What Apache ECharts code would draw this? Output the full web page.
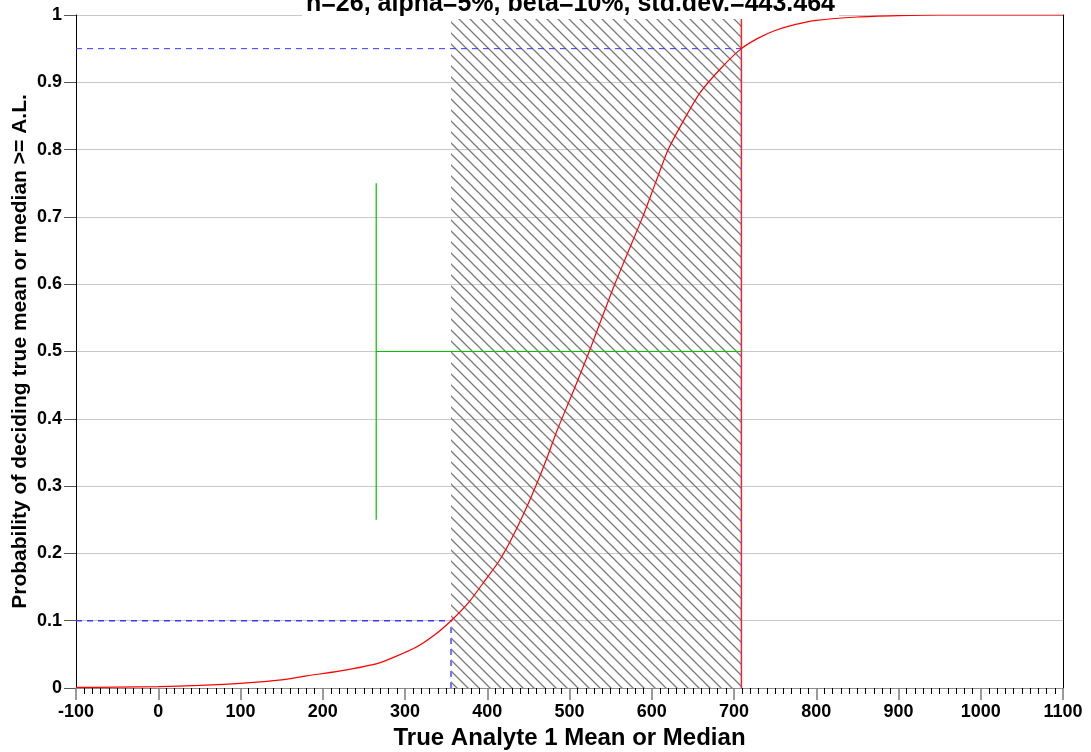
<!DOCTYPE html>
<html>
<head>
<meta charset="utf-8">
<script src="https://cdn.jsdelivr.net/npm/echarts@6/dist/echarts.min.js"></script>
<style>
  html, body { margin: 0; padding: 0; background: #fff; }
  #chart { width: 1091px; height: 752px; }
</style>
</head>
<body>
<div id="chart"></div>
<script>
// power curve
var curveX = [-100, -50, 0, 50, 100, 150, 180, 220, 268, 311, 335, 356, 378, 398, 414, 428, 444, 459, 472, 485, 505, 524, 540, 555, 572, 589, 605, 620, 640, 659, 685, 709, 730, 750, 775, 800, 850, 900, 950, 1100];
var curveP = [0.0008, 0.0013, 0.002, 0.004, 0.007, 0.012, 0.018, 0.025, 0.037, 0.059, 0.078, 0.1, 0.128, 0.161, 0.188, 0.218, 0.258, 0.3, 0.34, 0.383, 0.442, 0.5, 0.552, 0.6, 0.65, 0.7, 0.752, 0.8, 0.846, 0.885, 0.922, 0.95, 0.966, 0.977, 0.986, 0.992, 0.997, 0.999, 1, 1];

// reference levels
var xRange = [-100, 1100];
var lbgr = 356;          // lower bound of gray region
var actionLevel = 709;   // A.L.
var betaP = 0.1;
var alphaP = 0.95;
var greenX = 265;
var greenBar = [0.25, 0.75];
var midP = 0.5;
var titleText = 'n=26, alpha=5%, beta=10%, std.dev.=443.464';

var FONT = "'Liberation Sans', Arial, Helvetica, sans-serif";

// hatch pattern for the gray region
function makeHatch() {
	var c = document.createElement('canvas');
	var s = 11;
	c.width = s;
	c.height = s;
	var ctx = c.getContext('2d');
	ctx.strokeStyle = '#7a7a7a';
	ctx.lineWidth = 1.3;
	ctx.beginPath();
	ctx.moveTo(0, 0); ctx.lineTo(s, s);
	ctx.moveTo(-2, s - 2); ctx.lineTo(2, s + 2);
	ctx.moveTo(s - 2, -2); ctx.lineTo(s + 2, 2);
	ctx.stroke();
	return c;
}

function pairs(xs, ys) {
	var out = [];
	for (var i = 0; i < xs.length; i++) out.push([xs[i], ys[i]]);
	return out;
}

function seg(data, color, width, type, z) {
	return {
		type: 'line',
		data: data,
		symbol: 'none',
		silent: true,
		z: z || 3,
		lineStyle: { color: color, width: width, type: type || 'solid' }
	};
}

var myChart = echarts.init(document.getElementById('chart'), null, { renderer: 'canvas' });

var series = [];
// hatched gray region (behind)
series.push({
	type: 'line',
	data: [],
	symbol: 'none',
	z: 1,
	markArea: {
		silent: true,
		z: 1,
		itemStyle: { color: { image: makeHatch(), repeat: 'repeat' } },
		data: [[{ xAxis: lbgr, yAxis: 0 }, { xAxis: actionLevel, yAxis: 1 }]]
	}
});
// green lines
series.push(seg([[greenX, greenBar[0]], [greenX, greenBar[1]]], '#00c000', 1.2, 'solid', 5));
series.push(seg([[greenX, midP], [actionLevel, midP]], '#00c000', 1.2, 'solid', 5));
// blue dashed
series.push(seg([[xRange[0], alphaP], [actionLevel, alphaP]], '#3a3aff', 1, [6, 5]));
series.push(seg([[xRange[0], betaP], [lbgr, betaP]], '#3a3aff', 1.5, [6, 5]));
series.push(seg([[lbgr, 0], [lbgr, betaP]], '#7373ff', 2, [6, 5]));
// red action level line
series.push(seg([[actionLevel, 0], [actionLevel, 1]], '#ff2020', 1.5, 'solid', 4));
series.push(seg([[actionLevel, 0], [actionLevel, alphaP]], '#a040c0', 0.6, [6, 5], 4));
// curve
series.push({
	type: 'line',
	data: pairs(curveX, curveP),
	symbol: 'none',
	smooth: 0.2,
	z: 6,
	lineStyle: { color: '#ff0000', width: 1.2 }
});

var option = {
	animation: false,
	backgroundColor: '#fff',
	textStyle: { fontFamily: FONT },
	title: {
		text: titleText,
		left: 302,
		top: -8,
		padding: [0, 4, 2, 4],
		backgroundColor: '#fff',
		textStyle: { fontFamily: FONT, fontWeight: 'bold', fontSize: 25, color: '#000' }
	},
	grid: { left: 76, right: 28, top: 15, bottom: 64, containLabel: false, outerBoundsMode: 'none' },
	xAxis: {
		type: 'value',
		min: xRange[0],
		max: xRange[1],
		interval: 100,
		name: 'True Analyte 1 Mean or Median',
		nameLocation: 'middle',
		nameGap: 38,
		nameMoveOverlap: false,
		nameTextStyle: { fontFamily: FONT, fontWeight: 'bold', fontSize: 24, color: '#000' },
		axisLine: { show: true, onZero: false, lineStyle: { color: '#8c8c8c', width: 1 } },
		axisTick: { show: true, length: 12, lineStyle: { color: '#7a7a7a', width: 1.5 } },
		minorTick: { show: true, splitNumber: 10, length: 6, lineStyle: { color: '#000', width: 1 } },
		splitLine: { show: false },
		axisLabel: {
			margin: 15, fontFamily: FONT, fontWeight: 'bold', fontSize: 18, color: '#000',
			formatter: function(v) { return String(v); }
		}
	},
	yAxis: [{
		type: 'value',
		min: 0,
		max: 1,
		interval: 0.1,
		name: 'Probability of deciding true mean or median >= A.L.',
		nameLocation: 'middle',
		nameGap: 45,
		nameMoveOverlap: false,
		nameTextStyle: { fontFamily: FONT, fontWeight: 'bold', fontSize: 21, color: '#000' },
		axisLine: { show: true, onZero: false, lineStyle: { color: '#000', width: 1 } },
		axisTick: { show: true, length: 12, lineStyle: { color: '#555', width: 1 } },
		splitLine: { show: true, lineStyle: { color: '#c8c8c8', width: 1 } },
		axisLabel: {
			margin: 14, fontFamily: FONT, fontWeight: 'bold', fontSize: 18, color: '#000',
			formatter: function(v) { return String(Math.round(v * 10) / 10); }
		}
	}, {
		type: 'value',
		min: 0,
		max: 1,
		position: 'right',
		axisLine: { show: true, onZero: false, lineStyle: { color: '#000', width: 1 } },
		axisTick: { show: false },
		axisLabel: { show: false },
		splitLine: { show: false }
	}],
	series: series
};
myChart.setOption(option);
</script>
</body>
</html>
